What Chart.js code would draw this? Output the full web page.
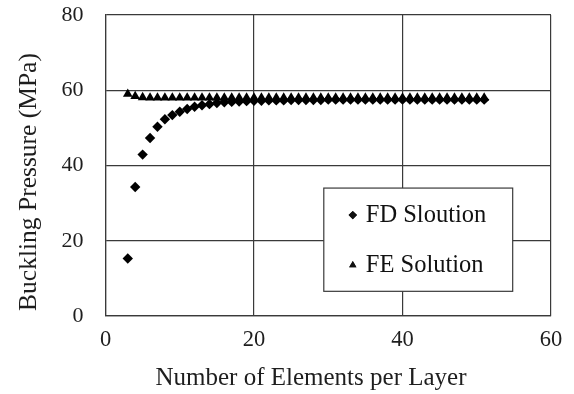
<!DOCTYPE html>
<html>
<head>
<meta charset="utf-8">
<script src="https://cdn.jsdelivr.net/npm/chart.js@4.4.0/dist/chart.umd.min.js"></script>
<style>
  html, body { margin: 0; padding: 0; background: #fff; }
  #wrap { width: 574px; height: 394px; }
</style>
</head>
<body>
<div id="wrap"><canvas id="chart" width="574" height="394"></canvas></div>
<script>
// Elements per layer, 3..51
const elements = [3, 4, 5, 6, 7, 8, 9, 10, 11, 12, 13, 14, 15, 16, 17, 18, 19, 20,
    21, 22, 23, 24, 25, 26, 27, 28, 29, 30, 31, 32, 33, 34, 35, 36, 37, 38, 39, 40,
    41, 42, 43, 44, 45, 46, 47, 48, 49, 50, 51];

// finite difference buckling pressure (MPa)
const fdPressure = [15.3, 34.3, 42.9, 47.3, 50.3, 52.3, 53.4, 54.3, 55.0, 55.6, 56.0, 56.3,
    56.6, 56.8, 56.9, 57.0, 57.1, 57.2, 57.2, 57.3, 57.3, 57.3, 57.4, 57.4, 57.4, 57.4,
    57.4, 57.5, 57.5, 57.5, 57.5, 57.5, 57.5, 57.5, 57.5, 57.5, 57.5, 57.5, 57.5, 57.5,
    57.5, 57.5, 57.5, 57.5, 57.5, 57.5, 57.5, 57.5, 57.5];

// finite element buckling pressure (MPa)
const fePressure = [59.0, 58.4, 58.1, 58.0, 58.0, 58.0, 58.0, 58.0, 58.0, 58.0, 58.0, 58.0,
    58.0, 58.0, 58.0, 58.0, 58.0, 58.0, 58.0, 58.0, 58.0, 58.0, 58.0, 58.0, 58.0, 58.0,
    58.0, 58.0, 58.0, 58.0, 58.0, 58.0, 58.0, 58.0, 58.0, 58.0, 58.0, 58.0, 58.0, 58.0,
    58.0, 58.0, 58.0, 58.0, 58.0, 58.0, 58.0, 58.0, 58.0];

const seriesNames = ['FD Sloution', 'FE Solution'];
const xTicks = [0, 20, 40, 60];
const yTicks = [0, 20, 40, 60, 80];
const xTitle = 'Number of Elements per Layer';
const yTitle = 'Buckling Pressure (MPa)';

const FONT = '"Liberation Serif", "Times New Roman", serif';
const GRID = '#3a3a3a';
const TEXT = '#1e1e1e';

const toPoints = (ys) => elements.map((x, i) => ({ x: x, y: ys[i] }));

// axis titles sit a little off-centre, so they are drawn here
const axisTitles = {
    id: 'axisTitles',
    afterDraw(chart) {
        const { ctx } = chart;
        ctx.save();
        ctx.fillStyle = TEXT;
        ctx.textAlign = 'center';
        ctx.textBaseline = 'middle';
        ctx.font = '25px ' + FONT;
        ctx.fillText(xTitle, 311, 378);
        ctx.translate(29, 182);
        ctx.rotate(-Math.PI / 2);
        ctx.font = '25.5px ' + FONT;
        ctx.fillText(yTitle, 0, 0);
        ctx.restore();
    }
};

// legend box drawn inside the plot area
const boxLegend = {
    id: 'boxLegend',
    afterDatasetsDraw(chart) {
        const { ctx, chartArea: a } = chart;
        const w = a.right - a.left, h = a.bottom - a.top;
        const x0 = a.left + w * 0.49, x1 = a.left + w * 0.914;
        const y0 = a.top + h * 0.575, y1 = a.top + h * 0.918;
        ctx.save();
        ctx.fillStyle = '#fff';
        ctx.fillRect(x0, y0, x1 - x0, y1 - y0);
        ctx.strokeStyle = GRID;
        ctx.lineWidth = 1.2;
        ctx.strokeRect(x0, y0, x1 - x0, y1 - y0);

        ctx.fillStyle = '#111';
        ctx.textBaseline = 'middle';
        ctx.font = '24.5px ' + FONT;
        const rows = [y0 + 27, y0 + 77];
        chart.data.datasets.forEach((ds, i) => {
            const mx = x0 + 29, my = rows[i];
            Chart.helpers.drawPoint(ctx, {
                pointStyle: ds.pointStyle,
                radius: 4.2,
                rotation: 0,
                borderWidth: 0
            }, mx, my);
            ctx.fill();
            ctx.fillText(ds.label, x0 + 42, my);
        });
        ctx.restore();
    }
};

new Chart(document.getElementById('chart'), {
    type: 'scatter',
    data: {
        datasets: [{
            label: seriesNames[0],
            data: toPoints(fdPressure),
            pointStyle: 'rectRot',
            pointRadius: 5.2,
            backgroundColor: '#000',
            borderColor: '#000',
            borderWidth: 0
        }, {
            label: seriesNames[1],
            data: toPoints(fePressure),
            pointStyle: 'triangle',
            pointRadius: 5.6,
            backgroundColor: '#000',
            borderColor: '#000',
            borderWidth: 0
        }]
    },
    options: {
        responsive: false,
        animation: false,
        layout: { padding: { top: 15, right: 23, left: 0, bottom: 0 } },
        plugins: {
            legend: { display: false },
            tooltip: { enabled: false }
        },
        scales: {
            x: {
                type: 'linear',
                min: 0,
                max: 60,
                afterBuildTicks: (axis) => { axis.ticks = xTicks.map(v => ({ value: v })); },
                grid: { color: GRID, lineWidth: 1.2, drawTicks: false },
                border: { color: GRID, width: 1.2 },
                ticks: { color: TEXT, font: { family: FONT, size: 22.5 }, padding: 11 },
                afterFit: (axis) => {
                    axis.height = 78;
                    axis.paddingLeft = 0;
                    axis.paddingRight = 0;
                }
            },
            y: {
                min: 0,
                max: 80,
                afterBuildTicks: (axis) => { axis.ticks = yTicks.map(v => ({ value: v })); },
                grid: { color: GRID, lineWidth: 1.2, drawTicks: false },
                border: { color: GRID, width: 1.2 },
                ticks: { color: TEXT, font: { family: FONT, size: 22 }, padding: 22 },
                afterFit: (axis) => {
                    axis.width = 105.5;
                    axis.paddingTop = 0;
                    axis.paddingBottom = 0;
                }
            }
        }
    },
    plugins: [boxLegend, axisTitles]
});
</script>
</body>
</html>
